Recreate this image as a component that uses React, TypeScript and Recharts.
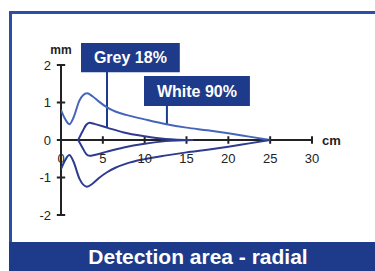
import { LineChart, Line, XAxis, YAxis, ReferenceLine, ReferenceDot, ReferenceArea } from 'recharts';

// distance in cm, spread in mm
const xTicks = [0, 5, 10, 15, 20, 25, 30];
const yTicks = [-2, -1, 0, 1, 2];

const whiteUpper = [
  { x: 0, y: 0.8 }, { x: 0.4, y: 0.6 }, { x: 1, y: 0.42 }, { x: 1.5, y: 0.6 },
  { x: 2.2, y: 1.05 }, { x: 3.1, y: 1.245 }, { x: 3.8, y: 1.16 }, { x: 4.5, y: 1.03 },
  { x: 5.5, y: 0.87 }, { x: 6.5, y: 0.76 }, { x: 7.8, y: 0.67 }, { x: 10, y: 0.55 },
  { x: 12.6, y: 0.42 }, { x: 15, y: 0.33 }, { x: 17.5, y: 0.26 }, { x: 20, y: 0.18 },
  { x: 22.5, y: 0.09 }, { x: 25, y: 0 },
];
const whiteLower = [
  { x: 0, y: -0.78 }, { x: 0.4, y: -0.58 }, { x: 1, y: -0.4 }, { x: 1.5, y: -0.58 },
  { x: 2.2, y: -1.03 }, { x: 3.1, y: -1.245 }, { x: 3.8, y: -1.16 }, { x: 4.5, y: -1.02 },
  { x: 5.5, y: -0.86 }, { x: 6.5, y: -0.74 }, { x: 7.8, y: -0.63 }, { x: 10, y: -0.51 },
  { x: 12.6, y: -0.41 }, { x: 15, y: -0.33 }, { x: 17.5, y: -0.26 }, { x: 20, y: -0.18 },
  { x: 22.5, y: -0.09 }, { x: 25, y: 0 },
];
const greyUpper = [
  { x: 2.05, y: 0 }, { x: 2.6, y: 0.24 }, { x: 3, y: 0.4 }, { x: 3.4, y: 0.46 },
  { x: 4, y: 0.43 }, { x: 5.5, y: 0.33 }, { x: 7.5, y: 0.2 }, { x: 10, y: 0.1 },
  { x: 12.5, y: 0.03 }, { x: 15.8, y: 0 },
];
const greyLower = [
  { x: 2.05, y: 0 }, { x: 2.6, y: -0.22 }, { x: 3, y: -0.37 }, { x: 3.4, y: -0.42 },
  { x: 4, y: -0.4 }, { x: 5.5, y: -0.31 }, { x: 7.5, y: -0.2 }, { x: 10, y: -0.1 },
  { x: 12.5, y: -0.03 }, { x: 15.8, y: 0 },
];

const navy = '#1e3a8a';
const axisColor = '#222';
const font = '"Liberation Sans", Arial, sans-serif';

export default function App() {
  return (
    <div style={{ position: 'absolute', left: 0, top: 0, width: 375, height: 271, overflow: 'hidden', background: '#fff', fontFamily: font }}>
      <div style={{ position: 'absolute', left: 9, top: 11, width: 380, height: 240, border: '3px solid #2c4ea5' }} />
      <div
        style={{
          position: 'absolute', left: 9, top: 242, width: 366, height: 29, background: navy,
          color: '#fff', fontSize: 21, fontWeight: 'bold', textAlign: 'center', lineHeight: '29px', paddingLeft: 12, boxSizing: 'border-box',
        }}
      >
        Detection area - radial
      </div>
      <div style={{ position: 'absolute', left: 0, top: 0 }}>
        <LineChart width={375} height={271} margin={{ top: 65, right: 63, bottom: 56, left: 21 }}>
          <XAxis type="number" dataKey="x" domain={[0, 30]} ticks={xTicks} hide allowDataOverflow />
          <YAxis
            type="number"
            domain={[-2, 2]}
            ticks={yTicks}
            interval={0}
            width={40}
            axisLine={false}
            tickLine={false}
            tickMargin={4}
            tick={{ fill: axisColor, fontSize: 13 }}
          />
          {xTicks.map(t => (
            <ReferenceDot
              key={'xl' + t}
              x={t}
              y={0}
              r={0}
              fill="none"
              stroke="none"
              ifOverflow="visible"
              label={{ value: String(t), position: 'bottom', offset: 14, fill: axisColor, fontSize: 13 }}
            />
          ))}
          <ReferenceLine segment={[{ x: 0, y: 0 }, { x: 30, y: 0 }]} stroke={axisColor} strokeWidth={2} ifOverflow="visible" />
          <ReferenceLine segment={[{ x: 0, y: -2 }, { x: 0, y: 2 }]} stroke={axisColor} strokeWidth={2} ifOverflow="visible" />
          {xTicks.filter(t => t > 0).map(t => (
            <ReferenceLine key={'xt' + t} segment={[{ x: t, y: -0.1 }, { x: t, y: 0.1 }]} stroke={axisColor} strokeWidth={2} ifOverflow="visible" />
          ))}
          {yTicks.map(t => (
            <ReferenceLine key={'yt' + t} segment={[{ x: -0.5, y: t }, { x: 0.5, y: t }]} stroke={axisColor} strokeWidth={2} ifOverflow="visible" />
          ))}
          <ReferenceDot x={0} y={2} r={0} fill="none" stroke="none" ifOverflow="visible"
            label={{ value: 'mm', position: 'top', offset: 11, fill: axisColor, fontSize: 12, fontWeight: 'bold' }} />
          <ReferenceDot x={30} y={0} r={0} fill="none" stroke="none" ifOverflow="visible"
            label={{ value: 'cm', position: 'right', offset: 10, fill: axisColor, fontSize: 13, fontWeight: 'bold' }} />

          <ReferenceLine segment={[{ x: 5.5, y: 0.33 }, { x: 5.5, y: 1.85 }]} stroke={navy} strokeWidth={2} ifOverflow="visible" />
          <ReferenceLine segment={[{ x: 12.66, y: 0.42 }, { x: 12.66, y: 0.95 }]} stroke={navy} strokeWidth={2} ifOverflow="visible" />
          <ReferenceArea x1={2.39} x2={14.2} y1={1.81} y2={2.59} fill={navy} fillOpacity={1} stroke="none" ifOverflow="visible"
            label={{ value: 'Grey 18%', position: 'center', fill: '#fff', fontSize: 16, fontWeight: 'bold' }} />
          <ReferenceArea x1={9.92} x2={22.58} y1={0.91} y2={1.71} fill={navy} fillOpacity={1} stroke="none" ifOverflow="visible"
            label={{ value: 'White 90%', position: 'center', fill: '#fff', fontSize: 16, fontWeight: 'bold' }} />

          <Line data={whiteUpper} dataKey="y" type="monotone" stroke="#4565b8" strokeWidth={2} dot={false} isAnimationActive={false} />
          <Line data={whiteLower} dataKey="y" type="monotone" stroke="#2e3b8f" strokeWidth={2} dot={false} isAnimationActive={false} />
          <Line data={greyUpper} dataKey="y" type="monotone" stroke="#2e3b8f" strokeWidth={2} dot={false} isAnimationActive={false} />
          <Line data={greyLower} dataKey="y" type="monotone" stroke="#2e3b8f" strokeWidth={2} dot={false} isAnimationActive={false} />
        </LineChart>
      </div>
    </div>
  );
}
